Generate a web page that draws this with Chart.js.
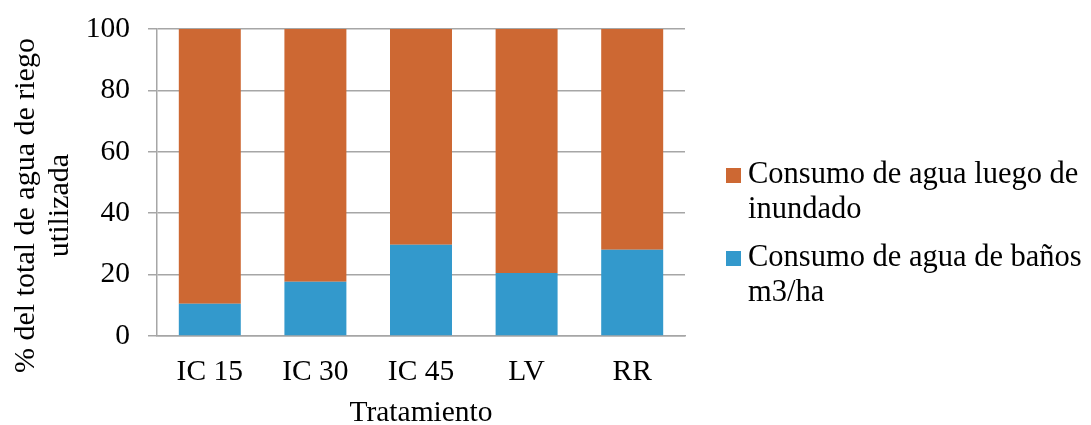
<!DOCTYPE html>
<html>
<head>
<meta charset="utf-8">
<script src="https://cdn.jsdelivr.net/npm/chart.js@4.4.1/dist/chart.umd.min.js"></script>
<style>
html,body{margin:0;padding:0;background:#fff;}
#wrap{width:1091px;height:425px;position:relative;}
</style>
</head>
<body>
<div id="wrap"><canvas id="c" width="1091" height="425"></canvas></div>
<script>
const categories = ['IC 15', 'IC 30', 'IC 45', 'LV', 'RR'];
const banosValues = [10.5, 17.7, 29.7, 20.5, 28.1];
const luegoValues = [89.5, 82.3, 70.3, 79.5, 71.9];
const yTicks = [0, 20, 40, 60, 80, 100];
const seriesLuegoLines = ['Consumo de agua luego de', 'inundado'];
const seriesBanosLines = ['Consumo de agua de baños', 'm3/ha'];
const yTitleLines = ['% del total de agua de riego', 'utilizada'];
const xTitle = 'Tratamiento';

const ORANGE = '#CD6833';
const BLUE = '#3399CC';
const FONT = "'Liberation Serif', 'Times New Roman', serif";

const textPlugin = {
  id: 'customText',
  afterDraw(chart) {
    const ctx = chart.ctx;
    const area = chart.chartArea;
    ctx.save();
    // legend
    ctx.font = '30.5px ' + FONT;
    ctx.textBaseline = 'middle';
    ctx.textAlign = 'left';
    const items = [
      {color: ORANGE, lines: seriesLuegoLines, y: 175},
      {color: BLUE, lines: seriesBanosLines, y: 258}
    ];
    items.forEach(it => {
      ctx.fillStyle = it.color;
      ctx.fillRect(726, it.y - 7, 15, 15);
      ctx.fillStyle = '#000';
      it.lines.forEach((ln, i) => {
        ctx.fillText(ln, 748, it.y + i * 35);
      });
    });
    // x title
    ctx.font = '29.5px ' + FONT;
    ctx.textAlign = 'center';
    ctx.textBaseline = 'alphabetic';
    ctx.fillText(xTitle, (area.left + area.right) / 2, 421);
    // y title
    ctx.font = '30px ' + FONT;
    ctx.textBaseline = 'middle';
    ctx.translate(0, (area.top + area.bottom) / 2 + 23);
    ctx.rotate(-Math.PI / 2);
    yTitleLines.forEach((ln, i) => {
      ctx.fillText(ln, 0, 26 + i * 34);
    });
    ctx.restore();
  }
};

new Chart(document.getElementById('c'), {
  type: 'bar',
  data: {
    labels: categories,
    datasets: [
      {label: seriesBanosLines.join(' '), data: banosValues, backgroundColor: BLUE, borderWidth: 0},
      {label: seriesLuegoLines.join(' '), data: luegoValues, backgroundColor: ORANGE, borderWidth: 0}
    ]
  },
  options: {
    responsive: false,
    animation: false,
    layout: {padding: {top: 29, right: 406, bottom: 0, left: 0}},
    plugins: {legend: {display: false}, tooltip: {enabled: false}},
    datasets: {bar: {categoryPercentage: 0.587, barPercentage: 1.0}},
    scales: {
      x: {
        stacked: true,
        grid: {display: false, drawTicks: false},
        border: {color: '#A6A6A6', width: 1.5},
        ticks: {color: '#000', font: {family: FONT, size: 29.5}, padding: 19},
        afterFit(s) { s.height = 89; s.paddingLeft = 0; s.paddingRight = 0; }
      },
      y: {
        stacked: true,
        min: 0, max: 100,
        afterBuildTicks(s) { s.ticks = yTicks.map(v => ({value: v})); },
        grid: {color: '#A6A6A6', lineWidth: 1.5, tickLength: 9, drawTicks: true},
        border: {color: '#A6A6A6', width: 1.5},
        ticks: {color: '#000', font: {family: FONT, size: 29.5}, padding: 18},
        afterFit(s) { s.width = 157; s.paddingTop = 0; s.paddingBottom = 0; }
      }
    }
  },
  plugins: [textPlugin]
});
</script>
</body>
</html>
